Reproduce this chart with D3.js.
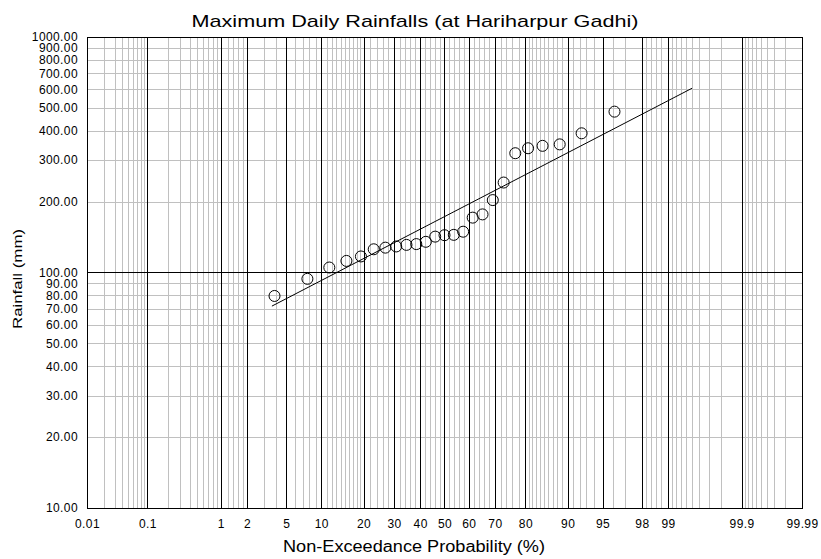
<!DOCTYPE html>
<html>
<head>
<meta charset="utf-8">
<script src="https://cdn.jsdelivr.net/npm/d3@7"></script>
<style>
  body { margin: 0; background: #fff; }
  text { font-family: "Liberation Sans", Arial, sans-serif; fill: #000; }
</style>
</head>
<body>
<svg id="chart" width="821" height="559"></svg>
<script>
// Plotting positions (%) of the observed annual maxima
var probs = [3.85, 7.69, 11.54, 15.38, 19.23, 23.08, 26.92, 30.77, 34.62, 38.46, 42.31, 46.15, 50.00,
             53.85, 57.69, 61.54, 65.38, 69.23, 73.08, 76.92, 80.77, 84.62, 88.46, 92.31, 96.15];
// Observed max daily rainfall (mm)
var rain = [79.5, 94, 105, 112, 117, 125.5, 127.5, 129, 131, 132, 135, 142, 144,
            144.5, 149, 171, 176.5, 203, 241, 321, 337, 345, 350, 390, 482];

// fitted distribution line (end points)
var fitProbs = [3.63, 99.5];
var fitRain = [72, 606];

// x axis (non-exceedance probability %)
var xMajor = [0.01, 0.1, 1, 2, 5, 10, 20, 30, 40, 50, 60, 70, 80, 90, 95, 98, 99, 99.9, 99.99];
var xLabels = ["0.01", "0.1", "1", "2", "5", "10", "20", "30", "40", "50", "60", "70", "80", "90", "95", "98", "99", "99.9", "99.99"];
var xMinor = [0.02, 0.03, 0.04, 0.05, 0.06, 0.07, 0.08, 0.09,
              0.2, 0.3, 0.4, 0.5, 0.6, 0.7, 0.8, 0.9,
              1.2, 1.4, 1.6, 1.8, 3, 4, 6, 7, 8, 9,
              11, 12, 13, 14, 15, 16, 17, 18, 19,
              22, 24, 26, 28, 32, 34, 36, 38, 42, 44, 46, 48,
              52, 54, 56, 58, 62, 64, 66, 68, 72, 74, 76, 78,
              81, 82, 83, 84, 85, 86, 87, 88, 89,
              91, 92, 93, 94, 96, 97, 98.2, 98.4, 98.6, 98.8,
              99.1, 99.2, 99.3, 99.4, 99.5, 99.6, 99.7, 99.8,
              99.91, 99.92, 99.93, 99.94, 99.95, 99.96, 99.97, 99.98];

// y axis (rainfall mm, log)
var yTicks = [10, 20, 30, 40, 50, 60, 70, 80, 90, 100, 200, 300, 400, 500, 600, 700, 800, 900, 1000];
var yMinor = [20, 30, 40, 50, 60, 70, 80, 90, 200, 300, 400, 500, 600, 700, 800, 900];
var yMajor = [100];

const margin = {left: 87, right: 802, top: 37, bottom: 508};

// inverse of the standard normal CDF (Acklam)
function probit(p) {
    var a = [-3.969683028665376e+01, 2.209460984245205e+02, -2.759285104469687e+02,
             1.383577518672690e+02, -3.066479806614716e+01, 2.506628277459239e+00];
    var b = [-5.447609879822406e+01, 1.615858368580409e+02, -1.556989798598866e+02,
             6.680131188771972e+01, -1.328068155288572e+01];
    var c = [-7.784894002430293e-03, -3.223964580411365e-01, -2.400758277161838e+00,
             -2.549732539343734e+00, 4.374664141464968e+00, 2.938163982698783e+00];
    var d = [7.784695709041462e-03, 3.224671290700398e-01, 2.445134137142996e+00, 3.754408661907416e+00];
    var pl = 0.02425, q, r;
    if (p < pl) {
        q = Math.sqrt(-2 * Math.log(p));
        return (((((c[0]*q+c[1])*q+c[2])*q+c[3])*q+c[4])*q+c[5]) / ((((d[0]*q+d[1])*q+d[2])*q+d[3])*q+1);
    }
    if (p <= 1 - pl) {
        q = p - 0.5; r = q * q;
        return (((((a[0]*r+a[1])*r+a[2])*r+a[3])*r+a[4])*r+a[5])*q / (((((b[0]*r+b[1])*r+b[2])*r+b[3])*r+b[4])*r+1);
    }
    q = Math.sqrt(-2 * Math.log(1 - p));
    return -(((((c[0]*q+c[1])*q+c[2])*q+c[3])*q+c[4])*q+c[5]) / ((((d[0]*q+d[1])*q+d[2])*q+d[3])*q+1);
}

var zScale = d3.scaleLinear()
    .domain([probit(0.0001), probit(0.9999)])
    .range([margin.left, margin.right]);
function xPos(p) { return zScale(probit(p / 100)); }
function crisp(v) { return Math.round(v) + 0.5; }

var yScale = d3.scaleLog()
    .domain([10, 1000])
    .range([margin.bottom, margin.top]);

var svg = d3.select("#chart");

/**** Grid ****/
var grid = svg.append("g").attr("shape-rendering", "crispEdges");

grid.selectAll(".vminor").data(xMinor).enter().append("line")
    .attr("x1", d => crisp(xPos(d))).attr("x2", d => crisp(xPos(d)))
    .attr("y1", margin.top).attr("y2", margin.bottom)
    .attr("stroke", "#c0c0c0");

grid.selectAll(".hminor").data(yMinor).enter().append("line")
    .attr("y1", d => crisp(yScale(d))).attr("y2", d => crisp(yScale(d)))
    .attr("x1", margin.left).attr("x2", margin.right)
    .attr("stroke", "#c0c0c0");

grid.selectAll(".vmajor").data(xMajor).enter().append("line")
    .attr("x1", d => crisp(xPos(d))).attr("x2", d => crisp(xPos(d)))
    .attr("y1", margin.top).attr("y2", margin.bottom)
    .attr("stroke", "#000");

grid.selectAll(".hmajor").data(yMajor).enter().append("line")
    .attr("y1", d => crisp(yScale(d))).attr("y2", d => crisp(yScale(d)))
    .attr("x1", margin.left).attr("x2", margin.right)
    .attr("stroke", "#000");

grid.append("rect")
    .attr("x", crisp(margin.left)).attr("y", crisp(margin.top))
    .attr("width", Math.round(margin.right) - Math.round(margin.left))
    .attr("height", Math.round(margin.bottom) - Math.round(margin.top))
    .attr("fill", "none").attr("stroke", "#000");

/**** Axes ****/
var yAxis = d3.axisLeft(yScale)
    .tickValues(yTicks)
    .tickFormat(d3.format(".2f"))
    .tickSize(0)
    .tickPadding(9);

var gy = svg.append("g")
    .attr("transform", "translate(" + margin.left + ",0)")
    .call(yAxis);
gy.select(".domain").remove();
gy.selectAll("text").style("font-size", "12px").style("font-family", "'Liberation Sans', Arial, sans-serif")
    .attr("letter-spacing", "0.4");

var xAxis = d3.axisBottom(zScale)
    .tickValues(xMajor.map(p => probit(p / 100)))
    .tickFormat((d, i) => xLabels[i])
    .tickSize(0)
    .tickPadding(11);

var gx = svg.append("g")
    .attr("transform", "translate(0," + margin.bottom + ")")
    .call(xAxis);
gx.select(".domain").remove();
gx.selectAll("text").style("font-size", "12px").style("font-family", "'Liberation Sans', Arial, sans-serif")
    .attr("letter-spacing", "0.4");

/**** Fitted line ****/
var fit = fitProbs.map((p, i) => [p, fitRain[i]]);
svg.append("path")
    .datum(fit)
    .attr("d", d3.line().x(d => xPos(d[0])).y(d => yScale(d[1])))
    .attr("fill", "none")
    .attr("stroke", "#000")
    .attr("stroke-width", 1);

/**** Observed points ****/
svg.selectAll(".pt").data(probs).enter().append("circle")
    .attr("class", "pt")
    .attr("cx", d => xPos(d))
    .attr("cy", (d, i) => yScale(rain[i]))
    .attr("r", 5.5)
    .attr("fill", "none")
    .attr("stroke", "#000")
    .attr("stroke-width", 1);

/**** Titles ****/
svg.append("text")
    .attr("x", 415).attr("y", 27)
    .attr("text-anchor", "middle")
    .style("font-size", "17px")
    .attr("textLength", 447).attr("lengthAdjust", "spacingAndGlyphs")
    .text("Maximum Daily Rainfalls (at Hariharpur Gadhi)");

svg.append("text")
    .attr("x", 414).attr("y", 552)
    .attr("text-anchor", "middle")
    .style("font-size", "16px")
    .attr("textLength", 262).attr("lengthAdjust", "spacingAndGlyphs")
    .text("Non-Exceedance Probability (%)");

svg.append("text")
    .attr("transform", "translate(22,279) rotate(-90)")
    .attr("text-anchor", "middle")
    .style("font-size", "12px")
    .attr("textLength", 100).attr("lengthAdjust", "spacingAndGlyphs")
    .text("Rainfall (mm)");
</script>
</body>
</html>
